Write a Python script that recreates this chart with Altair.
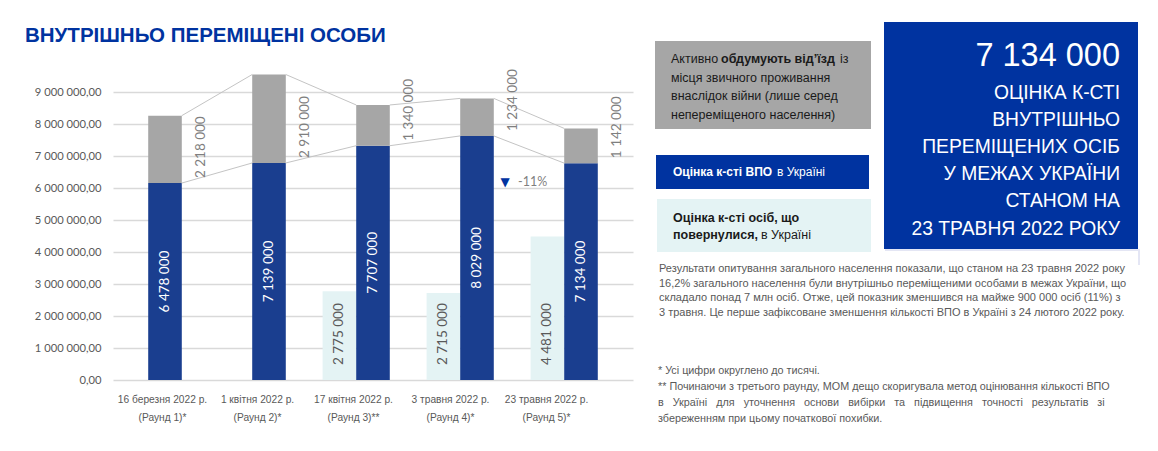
import altair as alt
import pandas as pd

# ---------------- data ----------------
dates = ["16 березня 2022 р.", "1 квітня 2022 р.", "17 квітня 2022 р.", "3 травня 2022 р.", "23 травня 2022 р."]
rounds = ["(Раунд 1)*", "(Раунд 2)*", "(Раунд 3)**", "(Раунд 4)*", "(Раунд 5)*"]
idp = [6478000, 7139000, 7707000, 8029000, 7134000]
considering = [2218000, 2910000, 1340000, 1234000, 1142000]
returnees = [None, None, 2775000, 2715000, 4481000]

def fmt(v):
    return f"{int(v):,}".replace(",", " ")

df = pd.DataFrame({
    "idx": list(range(1, len(dates) + 1)),
    "idp": idp,
    "considering": considering,
    "returnees": returnees,
})
df["idp_label"] = [fmt(v) for v in idp]
df["cons_label"] = [fmt(v) for v in considering]
df["ret_label"] = [fmt(v) if v is not None else "" for v in returnees]

change_pct = round((idp[-1] - idp[-2]) / idp[-2] * 100)

# ---------------- styles ----------------
BLUE = "#1a3e8f"
GRAY = "#a6a6a6"
LIGHT = "#e4f3f4"
BOXBLUE = "#0033a0"
TXT = "#595959"
NARROW = "Liberation Sans, Arial, sans-serif"
CAL = "Lato, Carlito, Calibri, sans-serif"
BW = 0.323
PL, PT = 113, 76
W, H = 520, 304

X_SCALE = alt.Scale(domain=[0.5, 5.5], nice=False, zero=False)
Y_MAIN = alt.Scale(domain=[0, 9500000], nice=False)
Y_STACK = alt.Scale(domain=[0, 10000000], nice=False)

label_expr = " : ".join(
    [f"datum.value == {i + 1} ? ['{d}', '{r}']" for i, (d, r) in enumerate(zip(dates, rounds))]
) + " : ''"
offs = [-3, -12, -20, -27, -35]
xaxis = alt.Axis(
    values=list(range(1, len(dates) + 1)), labelExpr=label_expr, grid=False, domain=False,
    ticks=False, labelFont=NARROW, labelFontSize=10.2, labelColor=TXT, labelLineHeight=18,
    labelPadding=14, labelOverlap=False, title=None,
    labelOffset={"condition": [{"test": f"datum.value == {i + 1}", "value": o} for i, o in enumerate(offs) if i > 0],
                 "value": offs[0]},
)
yaxis = alt.Axis(
    values=[i * 1000000 for i in range(10)],
    labelExpr="replace(replace(format(datum.value, ',.2f'), regexp(',', 'g'), ' '), '.', ',')",
    grid=True, gridColor="#d9d9d9", gridWidth=1.5, domain=False, ticks=False,
    labelFont=CAL, labelFontSize=11.2, labelColor=TXT, labelPadding=12, title=None,
)

base = alt.Chart(df).transform_calculate(top="datum.idp + datum.considering", z="0")

def X(field):
    return alt.X(field, type="quantitative", scale=X_SCALE, axis=xaxis)

light = base.transform_filter("isValid(datum.returnees)").transform_calculate(
    xa=f"datum.idx - {1.5 * BW}", xb=f"datum.idx - {0.5 * BW}"
).mark_bar(color=LIGHT).encode(
    x=X("xa"), x2="xb:Q", y=alt.Y("returnees:Q", scale=Y_MAIN, axis=yaxis), y2="z:Q"
)

light_lbl = base.transform_filter("isValid(datum.returnees)").transform_calculate(
    xc=f"datum.idx - {BW}"
).mark_text(angle=270, align="left", baseline="middle", dx=15, font=CAL, fontSize=13.5, color=TXT).encode(
    x=X("xc"), y=alt.Y("z:Q", scale=Y_MAIN, axis=None), text="ret_label:N"
)

blue = base.transform_calculate(
    xa=f"datum.idx - {0.5 * BW}", xb=f"datum.idx + {0.5 * BW}"
).mark_bar(color=BLUE).encode(
    x=X("xa"), x2="xb:Q", y=alt.Y("idp:Q", scale=Y_STACK, axis=None), y2="z:Q"
)

gray = base.transform_calculate(
    xa=f"datum.idx - {0.5 * BW}", xb=f"datum.idx + {0.5 * BW}"
).mark_bar(color=GRAY).encode(
    x=X("xa"), x2="xb:Q", y=alt.Y("idp:Q", scale=Y_STACK, axis=None), y2="top:Q"
)

def series_line(field):
    return base.transform_window(
        nxt=f"lead({field})", sort=[alt.SortField("idx")]
    ).transform_filter("isValid(datum.nxt)").transform_calculate(
        xa=f"datum.idx + {0.5 * BW}", xb=f"datum.idx + 1 - {0.5 * BW}"
    ).mark_rule(color="#c4c4c4", strokeWidth=1).encode(
        x=X("xa"), x2="xb:Q", y=alt.Y(f"{field}:Q", scale=Y_STACK, axis=None), y2="nxt:Q"
    )

line_top = series_line("top")
line_idp = series_line("idp")

blue_lbl = base.transform_calculate(mid="datum.idp / 2").mark_text(
    angle=270, align="center", baseline="middle", font=CAL, fontSize=13.5, color="white"
).encode(x=X("idx"), y=alt.Y("mid:Q", scale=Y_STACK, axis=None), text="idp_label:N")

gray_lbl = base.transform_calculate(xc=f"datum.idx + {0.5 * BW + 0.18}").mark_text(
    angle=270, align="left", baseline="middle", dx=5, font=CAL, fontSize=13.5, color="#7f7f7f"
).encode(x=X("xc"), y=alt.Y("idp:Q", scale=Y_STACK, axis=None), text="cons_label:N")

# ---------------- annotations ----------------
ONE = alt.Data(values=[{}])

def txt(s, x, y, size=14, color="#1a1a1a", weight="normal", align="left", font=NARROW, baseline="middle"):
    return alt.Chart(ONE).mark_text(
        text=s, align=align, baseline=baseline, fontSize=size, font=font, color=color, fontWeight=weight
    ).encode(x=alt.value(x - PL), y=alt.value(y - PT))

def box(x1, y1, x2, y2, color):
    return alt.Chart(ONE).mark_rect(color=color).encode(
        x=alt.value(x1 - PL), x2=alt.value(x2 - PL), y=alt.value(y1 - PT), y2=alt.value(y2 - PT)
    )

def rule(x1, y1, x2, y2, color):
    return alt.Chart(ONE).mark_rule(color=color, strokeWidth=1).encode(
        x=alt.value(x1 - PL), x2=alt.value(x2 - PL), y=alt.value(y1 - PT), y2=alt.value(y2 - PT)
    )

ann = [
    txt("ВНУТРІШНЬО ПЕРЕМІЩЕНІ ОСОБИ", 25, 42, size=20.5, color=BOXBLUE, weight="bold", baseline="alphabetic"),
    txt("▼", 505, 182, size=12, color=BOXBLUE, align="center", font="DejaVu Sans"),
    txt(f"{change_pct}%", 518, 182, size=12.5, color="#7f7f7f", font=CAL),
    # grey legend box
    box(655, 41, 871, 129, GRAY),
    txt("Активно", 671, 59, size=12.5),
    txt("обдумують від’їзд", 721, 59, size=12.5, weight="bold"),
    txt("із", 840, 59, size=12.5),
    txt("місця звичного проживання", 671, 78, size=12.5),
    txt("внаслідок війни (лише серед", 671, 96, size=12.5),
    txt("непереміщеного населення)", 671, 115, size=12.5),
    # blue legend box
    box(656, 155, 869, 189, BOXBLUE),
    txt("Оцінка к-сті ВПО", 673, 172, size=12, color="white", weight="bold"),
    txt("в Україні", 777, 172, size=12, color="white"),
    # light legend box
    box(657, 199, 871, 252, LIGHT),
    txt("Оцінка к-сті осіб, що", 673, 218, size=12.5, weight="bold"),
    txt("повернулися,", 673, 235, size=12.5, weight="bold"),
    txt("в Україні", 761, 235, size=12.5),
    # big blue box
    box(884, 22, 1138, 249, BOXBLUE),
    rule(885, 250, 1138, 250, "#c9cdea"),
    rule(1139, 249, 1139, 265, "#c9cdea"),
    txt("7 134 000", 1120, 66, size=32.5, color="white", align="right", baseline="alphabetic"),
]
big_lines = ["ОЦІНКА К-СТІ", "ВНУТРІШНЬО", "ПЕРЕМІЩЕНИХ ОСІБ", "У МЕЖАХ УКРАЇНИ", "СТАНОМ НА", "23 ТРАВНЯ 2022 РОКУ"]
for i, s in enumerate(big_lines):
    ann.append(txt(s, 1120, 93 + 27.1 * i, size=19.3, color="white", align="right"))

para = [
    "Результати опитування загального населення показали, що станом на 23 травня 2022 року",
    "16,2% загального населення були внутрішньо переміщеними особами в межах України, що",
    "складало понад 7 млн осіб. Отже, цей показник зменшився на майже 900 000 осіб (11%) з",
    "3 травня. Це перше зафіксоване зменшення кількості ВПО в Україні з 24 лютого 2022 року.",
]
for i, s in enumerate(para):
    ann.append(txt(s, 659, 269 + 14.6 * i, size=11, color=TXT))

nb = "\u00a0"
gap = " " + nb * 2
foot = [
    "* Усі цифри округлено до тисячі.",
    "** Починаючи з третього раунду, МОМ дещо скоригувала метод оцінювання кількості ВПО",
    gap.join("в Україні для уточнення основи вибірки та підвищення точності результатів зі".split(" ")),
    "збереженням при цьому початкової похибки.",
]
for i, s in enumerate(foot):
    ann.append(txt(s, 658, 371 + 16 * i, size=10.8, color=TXT))

chart = alt.layer(
    light, blue, gray, line_top, line_idp, light_lbl, blue_lbl, gray_lbl, *ann
).resolve_scale(y="independent").properties(
    width=W, height=H,
    autosize=alt.AutoSizeParams(type="none"),
    padding={"left": PL, "top": PT, "right": 1158 - PL - W, "bottom": 451 - PT - H},
    background="white",
).configure_view(stroke=None)

chart.save("out.html", embed_options={"renderer": "svg", "actions": False})
